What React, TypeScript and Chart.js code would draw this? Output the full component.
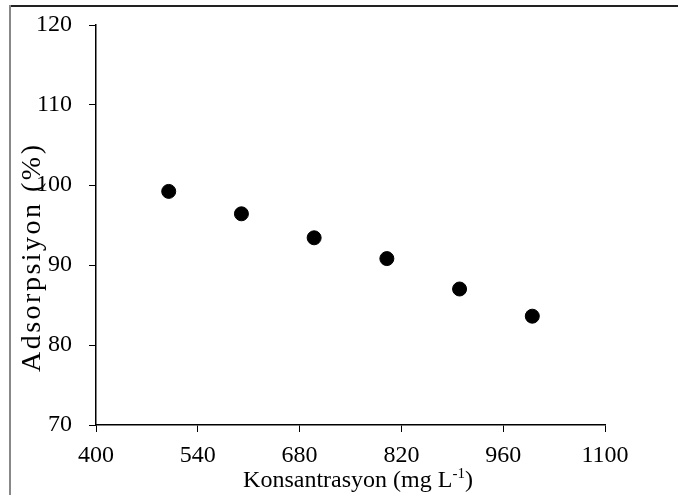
import React, { useEffect, useRef } from "react";
import { Chart, registerables } from "chart.js";

Chart.register(...registerables);

const concentrations = [500, 600, 700, 800, 900, 1000];
const adsorption = [99.2, 96.4, 93.4, 90.8, 87.0, 83.6];
const xTickValues = [400, 540, 680, 820, 960, 1100];
const yTickValues = [70, 80, 90, 100, 110, 120];
const xTitleMain = "Konsantrasyon (mg L";
const xTitleSup = "-1";
const xTitleEnd = ")";
const yTitle = "Adsorpsiyon (%)";

const FONT = '"Liberation Serif", "Times New Roman", serif';

const decorPlugin = {
  id: "decor",
  afterDraw(chart: any) {
    const ctx = chart.ctx as CanvasRenderingContext2D;
    ctx.save();
    // frame
    ctx.fillStyle = "#222";
    ctx.fillRect(9, 5, 669, 2);
    ctx.fillStyle = "#888";
    ctx.fillRect(9, 5, 2, 490);

    // x title with superscript
    ctx.fillStyle = "#000";
    ctx.textBaseline = "alphabetic";
    ctx.textAlign = "left";
    ctx.font = `24px ${FONT}`;
    const mainW = ctx.measureText(xTitleMain).width;
    ctx.font = `15px ${FONT}`;
    const supW = ctx.measureText(xTitleSup).width;
    ctx.font = `24px ${FONT}`;
    const endW = ctx.measureText(xTitleEnd).width;
    const total = mainW + supW + endW;
    const cx = 358;
    let x = cx - total / 2;
    const base = 486.5;
    ctx.fillText(xTitleMain, x, base);
    x += mainW;
    ctx.font = `15px ${FONT}`;
    ctx.fillText(xTitleSup, x, base - 8.5);
    x += supW;
    ctx.font = `24px ${FONT}`;
    ctx.fillText(xTitleEnd, x, base);

    // y title rotated, spaced to match reference length
    ctx.save();
    ctx.font = `28px ${FONT}`;
    const yw = ctx.measureText(yTitle).width;
    const targetLen = 227;
    const spacing = Math.max(0, (targetLen - yw) / (yTitle.length - 1));
    (ctx as any).letterSpacing = `${spacing}px`;
    const wSpaced = ctx.measureText(yTitle).width - spacing;
    ctx.translate(40, 258.5);
    ctx.rotate(-Math.PI / 2);
    ctx.textAlign = "left";
    ctx.fillText(yTitle, -wSpaced / 2, 0);
    ctx.restore();

    ctx.restore();
  },
};

export default function App() {
  const ref = useRef<HTMLCanvasElement | null>(null);

  useEffect(() => {
    if (!ref.current) return;
    const chart = new Chart(ref.current, {
      type: "scatter",
      data: {
        datasets: [
          {
            data: concentrations.map((c, i) => ({ x: c, y: adsorption[i] })),
            backgroundColor: "#000",
            borderColor: "#000",
            borderWidth: 1,
            pointRadius: 7,
            pointStyle: "circle",
          },
        ],
      },
      options: {
        animation: false,
        responsive: false,
        events: [],
        layout: { padding: { top: 25, right: 73, left: 0, bottom: 0 } },
        plugins: {
          legend: { display: false },
          tooltip: { enabled: false },
          title: { display: false },
        },
        scales: {
          x: {
            type: "linear",
            min: 400,
            max: 1100,
            afterBuildTicks: (s: any) => {
              s.ticks = xTickValues.map((v) => ({ value: v }));
            },
            afterFit: (s: any) => {
              s.height = 70;
              s.paddingLeft = 0;
              s.paddingRight = 0;
            },
            grid: {
              drawOnChartArea: false,
              drawTicks: true,
              tickLength: 7,
              color: "#000",
              lineWidth: 1,
            },
            border: { display: true, color: "#000", width: 1.5 },
            ticks: {
              color: "#000",
              font: { family: FONT, size: 24 },
              padding: 9,
              maxRotation: 0,
              autoSkip: false,
              callback: (v: any) => String(v),
            },
          },
          y: {
            type: "linear",
            min: 70,
            max: 120,
            afterBuildTicks: (s: any) => {
              s.ticks = yTickValues.map((v) => ({ value: v }));
            },
            afterFit: (s: any) => {
              s.width = 96;
              s.paddingTop = 0;
              s.paddingBottom = 0;
            },
            grid: {
              drawOnChartArea: false,
              drawTicks: true,
              tickLength: 7,
              color: "#000",
              lineWidth: 1,
            },
            border: { display: true, color: "#000", width: 1.5 },
            ticks: {
              color: "#000",
              font: { family: FONT, size: 24 },
              padding: 17,
              autoSkip: false,
              callback: (v: any) => String(v),
            },
          },
        },
      },
      plugins: [decorPlugin],
    });
    return () => chart.destroy();
  }, []);

  return (
    <div
      style={{
        position: "fixed",
        left: 0,
        top: 0,
        width: 678,
        height: 495,
        background: "#fff",
      }}
    >
      <canvas ref={ref} width={678} height={495} style={{ display: "block" }} />
    </div>
  );
}
